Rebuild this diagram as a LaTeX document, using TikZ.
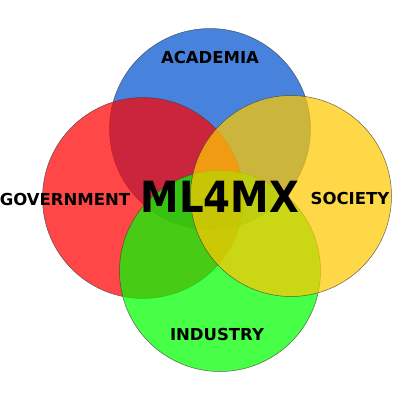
\documentclass[tikz,border=0pt]{standalone}
\usepackage{fontspec}
\setmainfont{DejaVu Sans}
\usepackage{graphicx}
\usetikzlibrary{positioning}
\definecolor{academiacolor}{RGB}{0,83,208}
\definecolor{governmentcolor}{RGB}{255,0,0}
\definecolor{industrycolor}{RGB}{0,255,0}
\definecolor{societycolor}{RGB}{255,201,0}

\begin{document}
\begin{tikzpicture}[
    x=1pt, y=-1pt,
    field/.style={circle, draw=black!75, line width=0.5pt, draw opacity=0.8, fill opacity=0.72, minimum size=201pt, inner sep=0pt},
    fieldlabel/.style={font=\bfseries\fontsize{16.5}{18}\selectfont, inner sep=0pt},
    title/.style={font=\bfseries\fontsize{43}{46}\selectfont, inner sep=0pt}
]
    \useasboundingbox (0,0) rectangle (400,400);

    % Circles (bottom to top)
    \node[field, fill=academiacolor] (academia) at (210,129) {};
    \node[field, fill=governmentcolor] (government) at (143,198) {};
    \node[field, fill=industrycolor] (industry) at (220,271) {};
    \node[field, fill=societycolor] (society) at (291,196) {};

    % Labels
    \node[fieldlabel] (academialabel) at (210,57) {ACADEMIA};
    \node[fieldlabel] (governmentlabel) at (65,199) {GOVERNMENT};
    \node[fieldlabel] (societylabel) at (350,198) {SOCIETY};
    \node[fieldlabel] (industrylabel) at (217,334) {INDUSTRY};

    % Centre
    \node[title] (ml4mx) at (220,197) {\scalebox{0.9}[1]{ML4MX}};

\end{tikzpicture}
\end{document}
